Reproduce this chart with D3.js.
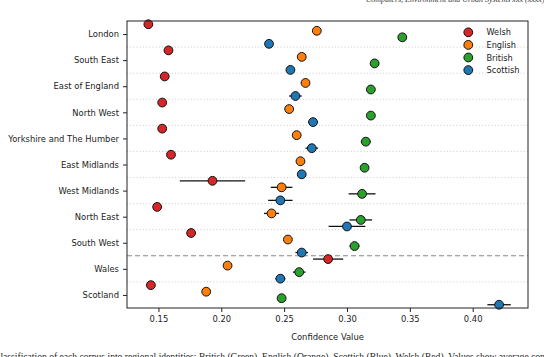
<!DOCTYPE html>
<html>
<head>
<meta charset="utf-8">
<script src="https://cdn.jsdelivr.net/npm/d3@7"></script>
<style>
  html, body { margin: 0; padding: 0; background: #fff; }
  svg { display: block; }
</style>
</head>
<body>
<svg id="chart" width="544" height="357"></svg>
<script>
// ---- data ----
const regions = ["London", "South East", "East of England", "North West", "Yorkshire and The Humber",
  "East Midlands", "West Midlands", "North East", "South West", "Wales", "Scotland"];

const welsh    = [0.142, 0.158, 0.155, 0.153, 0.153, 0.160, 0.193, 0.149, 0.176, 0.285, 0.144];
const english  = [0.276, 0.264, 0.267, 0.254, 0.260, 0.263, 0.248, 0.240, 0.253, 0.205, 0.188];
const british  = [0.344, 0.322, 0.319, 0.319, 0.315, 0.314, 0.312, 0.311, 0.306, 0.262, 0.248];
const scottish = [0.238, 0.255, 0.259, 0.273, 0.272, 0.264, 0.247, 0.300, 0.264, 0.247, 0.421];

const welshErr    = [0.001, 0.001, 0.001, 0.001, 0.001, 0.001, 0.026, 0.002, 0.003, 0.012, 0.001];
const englishErr  = [0.001, 0.001, 0.001, 0.001, 0.001, 0.001, 0.0086, 0.006, 0.002, 0.001, 0.001];
const britishErr  = [0.002, 0.002, 0.003, 0.003, 0.004, 0.002, 0.0107, 0.009, 0.004, 0.005, 0.002];
const scottishErr = [0.001, 0.002, 0.005, 0.004, 0.005, 0.003, 0.0097, 0.0146, 0.005, 0.004, 0.0093];

const seriesNames = ["Welsh", "English", "British", "Scottish"];
const seriesColors = ["#d62728", "#ff7f0e", "#2ca02c", "#1f77b4"];
const seriesOffsets = [-0.375, -0.125, 0.125, 0.375];
const xTicks = [0.15, 0.20, 0.25, 0.30, 0.35, 0.40];
const xLabel = "Confidence Value";
const caption = "Classification of each corpus into regional identities: British (Green), English (Orange), Scottish (Blue), Welsh (Red). Values show average confidence";

const series = [
  { name: seriesNames[0], values: welsh, errs: welshErr },
  { name: seriesNames[1], values: english, errs: englishErr },
  { name: seriesNames[2], values: british, errs: britishErr },
  { name: seriesNames[3], values: scottish, errs: scottishErr }
];

// ---- layout ----
const svg = d3.select("#chart");
const pLeft = 127, pRight = 528, pTop = 21, pBottom = 308;
const font = "'DejaVu Sans', sans-serif";

const x = d3.scaleLinear().domain([0.125, 0.444]).range([pLeft, pRight]);
const y = d3.scaleLinear().domain([-0.5, regions.length - 0.5]).range([pTop, pBottom]);

// header fragment (cut off at top)
svg.append("text")
  .attr("x", 366).attr("y", 1.5)
  .attr("font-family", "'Liberation Serif', serif")
  .attr("font-style", "italic")
  .attr("font-size", 8)
  .attr("fill", "#333")
  .text("Computers, Environment and Urban Systems xxx (xxxx) xxxxxx");

// gridlines between categories
const g = svg.append("g");
d3.range(0, regions.length - 1).forEach(i => {
  const yy = y(i + 0.5);
  if (i === 8) {
    g.append("line").attr("x1", pLeft).attr("x2", pRight).attr("y1", yy).attr("y2", yy)
      .attr("stroke", "#888").attr("stroke-width", 1.1).attr("stroke-dasharray", "5,3");
  } else {
    g.append("line").attr("x1", pLeft).attr("x2", pRight).attr("y1", yy).attr("y2", yy)
      .attr("stroke", "#c8c8c8").attr("stroke-width", 0.9).attr("stroke-dasharray", "1,2.2");
  }
});

// error bars
series.forEach((s, si) => {
  svg.append("g").selectAll("line").data(s.values).join("line")
    .attr("x1", (d, i) => x(d - s.errs[i]))
    .attr("x2", (d, i) => x(d + s.errs[i]))
    .attr("y1", (d, i) => y(i + seriesOffsets[si]))
    .attr("y2", (d, i) => y(i + seriesOffsets[si]))
    .attr("stroke", "#111").attr("stroke-width", 1.3);
});

// points
series.forEach((s, si) => {
  svg.append("g").selectAll("circle").data(s.values).join("circle")
    .attr("cx", d => x(d))
    .attr("cy", (d, i) => y(i + seriesOffsets[si]))
    .attr("r", 4.4)
    .attr("fill", seriesColors[si])
    .attr("stroke", "#111").attr("stroke-width", 1);
});

// frame
svg.append("rect").attr("x", pLeft).attr("y", pTop).attr("width", pRight - pLeft).attr("height", pBottom - pTop)
  .attr("fill", "none").attr("stroke", "#222").attr("stroke-width", 1);

// axes
const xAxis = svg.append("g").attr("transform", `translate(0,${pBottom})`)
  .call(d3.axisBottom(x).tickValues(xTicks).tickFormat(d3.format(".2f")).tickSize(4).tickPadding(4));
const yAxis = svg.append("g").attr("transform", `translate(${pLeft},0)`)
  .call(d3.axisLeft(y).tickValues(d3.range(regions.length)).tickFormat(i => regions[i]).tickSize(4).tickPadding(4));
[xAxis, yAxis].forEach(a => {
  a.select(".domain").remove();
  a.selectAll("line").attr("stroke", "#222").attr("stroke-width", 1);
  a.selectAll("text").attr("font-family", font).attr("font-size", 8.4).attr("fill", "#222");
});

svg.append("text").attr("x", (pLeft + pRight) / 2).attr("y", 339.5)
  .attr("text-anchor", "middle").attr("font-family", font).attr("font-size", 8.4).attr("fill", "#222")
  .text(xLabel);

// legend
const legend = svg.append("g");
seriesNames.forEach((n, i) => {
  const ly = 32.3 + i * 12.6;
  legend.append("circle").attr("cx", 468.3).attr("cy", ly).attr("r", 4.4)
    .attr("fill", seriesColors[i]).attr("stroke", "#111").attr("stroke-width", 1);
  legend.append("text").attr("x", 486.5).attr("y", ly + 3)
    .attr("font-family", font).attr("font-size", 8.2).attr("fill", "#222").text(n);
});

// caption fragment (cut off at bottom)
svg.append("text").attr("x", -6).attr("y", 360)
  .attr("font-family", "'Liberation Serif', serif").attr("font-size", 9.6).attr("fill", "#222")
  .text(caption);
</script>
</body>
</html>
